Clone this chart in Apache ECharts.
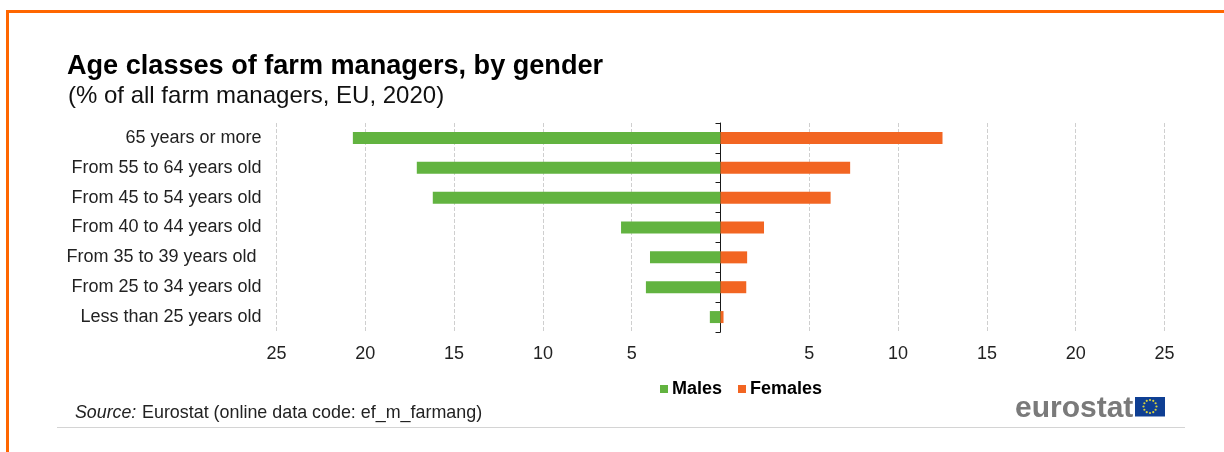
<!DOCTYPE html>
<html>
<head>
<meta charset="utf-8">
<title>Age classes of farm managers, by gender</title>
<script src="https://cdn.jsdelivr.net/npm/echarts@6/dist/echarts.min.js"></script>
<style>
html, body { margin: 0; padding: 0; background: #fff; }
#chart { width: 1224px; height: 452px; }
</style>
</head>
<body>
<div id="chart"></div>
<script>
var categories = ['65 years or more', 'From 55 to 64 years old', 'From 45 to 54 years old', 'From 40 to 44 years old', 'From 35 to 39 years old ', 'From 25 to 34 years old', 'Less than 25 years old'];
var males = [20.7, 17.1, 16.2, 5.6, 3.97, 4.2, 0.6];
var females = [12.5, 7.3, 6.2, 2.45, 1.5, 1.45, 0.17];
var titleText = 'Age classes of farm managers, by gender';
var subtitleText = '(% of all farm managers, EU, 2020)';
var sourceText = 'Eurostat (online data code: ef_m_farmang)';

var font = '"Liberation Sans", Arial, sans-serif';
var maleValues = males.map(function (v) { return -v; });

// twelve stars of the flag, drawn as small dots
var stars = [];
for (var i = 0; i < 12; i++) {
    var a = i * Math.PI / 6;
    stars.push({
        type: 'circle',
        shape: { cx: 1150 + 6.5 * Math.cos(a), cy: 406.5 + 6.5 * Math.sin(a), r: 1.1 },
        style: { fill: '#d9d23c' }
    });
}

var chart = echarts.init(document.getElementById('chart'), null, { renderer: 'canvas' });
chart.setOption({
    animation: false,
    backgroundColor: '#fff',
    textStyle: { fontFamily: font },
    grid: { left: 276.5, right: 59.5, top: 123, height: 209, containLabel: false },
    legend: {
        data: ['Males', 'Females'],
        left: 655,
        top: 375,
        itemWidth: 8,
        itemHeight: 8,
        itemGap: 16,
        icon: 'rect',
        selectedMode: false,
        textStyle: { fontFamily: font, fontSize: 18, fontWeight: 'bold', color: '#000', padding: [0, 0, 0, -1] }
    },
    xAxis: {
        type: 'value',
        min: -25,
        max: 25,
        interval: 5,
        axisLine: { show: false },
        axisTick: { show: false },
        axisLabel: {
            color: '#222',
            fontFamily: font,
            fontSize: 18,
            margin: 13,
            formatter: function (v) { return v === 0 ? '' : String(Math.abs(v)); }
        },
        splitLine: { show: true, lineStyle: { color: '#cfcfcf', type: 'dashed', width: 1 } }
    },
    yAxis: [
        {
            type: 'category',
            inverse: true,
            data: categories,
            axisLine: { show: false, onZero: false },
            axisTick: { show: false },
            axisLabel: { color: '#222', fontFamily: font, fontSize: 18, margin: 15, padding: [2, 0, 0, 0] }
        },
        {
            type: 'category',
            inverse: true,
            position: 'left',
            data: categories,
            axisLine: { show: true, onZero: true, lineStyle: { color: '#1a1a1a', width: 1 } },
            axisTick: { show: true, length: 5, lineStyle: { color: '#1a1a1a', width: 1 } },
            axisLabel: { show: false }
        }
    ],
    series: [
        {
            name: 'Males',
            type: 'bar',
            stack: 'age',
            barWidth: 12,
            data: maleValues,
            itemStyle: { color: '#62b340' }
        },
        {
            name: 'Females',
            type: 'bar',
            stack: 'age',
            barWidth: 12,
            data: females,
            itemStyle: { color: '#f26522' }
        }
    ],
    graphic: [
        { type: 'rect', shape: { x: 7.5, y: 11.5, width: 1300, height: 800 }, style: { fill: 'none', stroke: '#ff6600', lineWidth: 3 }, silent: true },
        { type: 'text', left: 67, top: 53, style: { text: titleText, font: 'bold 27.1px ' + font, fill: '#000' } },
        { type: 'text', left: 68, top: 84, style: { text: subtitleText, font: '24px ' + font, fill: '#111' } },
        { type: 'text', left: 75, top: 404, style: { text: 'Source:', font: 'italic 17.8px ' + font, fill: '#222' } },
        { type: 'text', left: 142, top: 404, style: { text: sourceText, font: '17.9px ' + font, fill: '#222' } },
        { type: 'line', shape: { x1: 57, y1: 427.5, x2: 1185, y2: 427.5 }, style: { stroke: '#d4d4d4', lineWidth: 1 } },
        { type: 'text', left: 1015, top: 394, style: { text: 'eurostat', font: 'bold 30px ' + font, fill: '#7a7a7a' } },
        { type: 'rect', shape: { x: 1135, y: 397, width: 30, height: 19.5 }, style: { fill: '#0f3f93' } },
        { type: 'group', children: stars }
    ]
});
</script>
</body>
</html>
